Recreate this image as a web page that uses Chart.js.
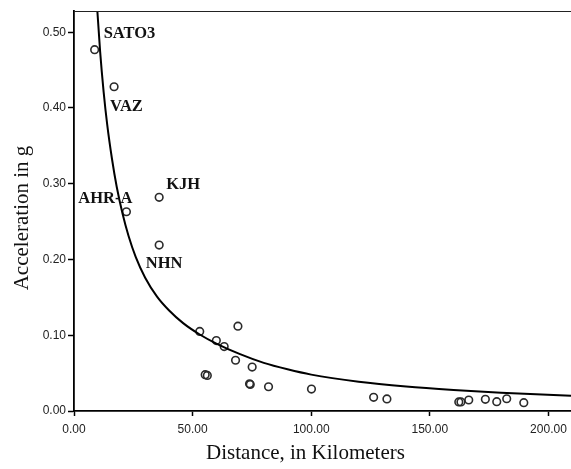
<!DOCTYPE html>
<html>
<head>
<meta charset="utf-8">
<script src="https://cdn.jsdelivr.net/npm/chart.js@4.4.1/dist/chart.umd.min.js"></script>
<style>
html,body{margin:0;padding:0;background:#fff;}
canvas{display:block;}
</style>
</head>
<body>
<canvas id="c" width="571" height="469"></canvas>
<script>
// Observed stations: distance (km) and peak acceleration (g)
const stationNames = ["SATO3","VAZ","AHR-A","KJH","NHN","","","","","","","","","","","","","","","","","","","","",""];
const distKm = [8.7, 16.9, 22.1, 35.9, 35.9, 53.0, 69.1, 60.0, 63.3, 68.1, 75.1, 55.3, 56.2, 74.0, 74.3, 82.0, 100.1, 126.3, 131.9, 162.2, 163.1, 166.4, 173.4, 178.2, 182.4, 189.6];
const accelG = [0.477, 0.428, 0.263, 0.282, 0.219, 0.105, 0.112, 0.093, 0.085, 0.067, 0.058, 0.048, 0.047, 0.036, 0.035, 0.032, 0.029, 0.018, 0.016, 0.012, 0.012, 0.0145, 0.0154, 0.0123, 0.0162, 0.011];

// Fitted attenuation curve
const curveKm = [9.5, 9.8, 11, 12.5, 14, 16, 18, 20.5, 23, 26, 30, 35, 40, 46, 53, 60, 70, 80, 90, 100, 120, 140, 160, 180, 209.5];
const curveG  = [0.547, 0.530, 0.475, 0.421, 0.378, 0.333, 0.296, 0.260, 0.231, 0.2035, 0.176, 0.151, 0.133, 0.116, 0.101, 0.089, 0.075, 0.0635, 0.055, 0.048, 0.0387, 0.0324, 0.0278, 0.0241, 0.020];

const xTicks = [0, 50, 100, 150, 200];
const yTicks = [0, 0.1, 0.2, 0.3, 0.4, 0.5];
const xTitle = "Distance, in Kilometers";
const yTitle = "Acceleration in g";

const labelOffsets = {
  "SATO3": {dx: 9, dy: -16, align: "left"},
  "VAZ":   {dx: -4, dy: 20, align: "left"},
  "AHR-A": {dx: 6, dy: -13, align: "right"},
  "KJH":   {dx: 7, dy: -13, align: "left"},
  "NHN":   {dx: 5, dy: 19, align: "center"}
};

const pointLabels = {
  id: "pointLabels",
  afterDatasetsDraw(chart) {
    const ctx = chart.ctx;
    const meta = chart.getDatasetMeta(1);
    ctx.save();
    ctx.font = "bold 16.5px 'Liberation Serif', 'Times New Roman', serif";
    ctx.fillStyle = "#111";
    ctx.textBaseline = "middle";
    meta.data.forEach((el, i) => {
      const name = stationNames[i];
      if (!name) return;
      const o = labelOffsets[name] || {dx: 6, dy: -12, align: "left"};
      ctx.textAlign = o.align;
      ctx.fillText(name, el.x + o.dx, el.y + o.dy);
    });
    ctx.restore();
  }
};

const topBorder = {
  id: "topBorder",
  afterDraw(chart) {
    const {ctx, chartArea} = chart;
    ctx.save();
    ctx.strokeStyle = "#222";
    ctx.lineWidth = 1;
    ctx.beginPath();
    ctx.moveTo(chartArea.left, chartArea.top + 0.5);
    ctx.lineTo(chartArea.right, chartArea.top + 0.5);
    ctx.stroke();
    ctx.restore();
  }
};

// shift a scale's native title slightly (the original centres titles off the plot centre)
function shiftTitle(scale, dx, dy) {
  if (scale._titleShifted) return;
  scale._titleShifted = true;
  const orig = scale.drawTitle.bind(scale);
  scale.drawTitle = function () {
    const ctx = this.ctx;
    ctx.save();
    ctx.translate(dx, dy);
    orig();
    ctx.restore();
  };
}

const tickFont = {family: "'Liberation Sans', Arial, sans-serif", size: 12};
const titleFont = {family: "'Liberation Serif', 'Times New Roman', serif", size: 21};

new Chart(document.getElementById("c"), {
  type: "scatter",
  data: {
    datasets: [
      {
        type: "line",
        data: curveKm.map((x, i) => ({x: x, y: curveG[i]})),
        borderColor: "#000",
        borderWidth: 2,
        pointRadius: 0,
        pointHoverRadius: 0,
        fill: false,
        cubicInterpolationMode: "monotone",
        order: 0
      },
      {
        data: distKm.map((x, i) => ({x: x, y: accelG[i]})),
        pointRadius: 3.8,
        pointBorderWidth: 1.6,
        borderColor: "#2a2a2a",
        backgroundColor: "rgba(255,255,255,0)",
        pointBackgroundColor: "rgba(255,255,255,0)",
        pointBorderColor: "#2a2a2a",
        order: 1
      }
    ]
  },
  options: {
    responsive: false,
    animation: false,
    devicePixelRatio: 1,
    layout: {autoPadding: false, padding: {left: 0, right: 0, top: 11, bottom: 0}},
    plugins: {legend: {display: false}, tooltip: {enabled: false}},
    scales: {
      x: {
        type: "linear",
        min: 0,
        max: 209.5,
        afterBuildTicks(scale) { scale.ticks = xTicks.map(v => ({value: v})); },
        afterFit(scale) { scale.height = 58; scale.paddingRight = 0; scale.paddingLeft = 0; shiftTitle(scale, -17, 0); },
        ticks: {
          color: "#222",
          font: tickFont,
          padding: 6,
          maxRotation: 0,
          callback: v => Number(v).toFixed(2)
        },
        grid: {display: true, drawOnChartArea: false, drawTicks: true, tickLength: 5, tickColor: "#000", tickWidth: 1.5},
        border: {display: true, color: "#000", width: 1.8},
        title: {display: true, text: xTitle, color: "#111", font: titleFont, padding: {top: 0, bottom: 3}}
      },
      y: {
        type: "linear",
        min: 0,
        max: 0.528,
        afterBuildTicks(scale) { scale.ticks = yTicks.map(v => ({value: v})); },
        afterFit(scale) { scale.width = 74; scale.paddingTop = 0; scale.paddingBottom = 0; shiftTitle(scale, 0, 7); },
        ticks: {
          color: "#222",
          font: tickFont,
          padding: 2,
          callback: v => Number(v).toFixed(2)
        },
        grid: {display: true, drawOnChartArea: false, drawTicks: true, tickLength: 6, tickColor: "#000", tickWidth: 1.5},
        border: {display: true, color: "#000", width: 1.8},
        title: {display: true, text: yTitle, color: "#111", font: titleFont, padding: {top: 10, bottom: 0}}
      }
    }
  },
  plugins: [pointLabels, topBorder]
});
</script>
</body>
</html>
